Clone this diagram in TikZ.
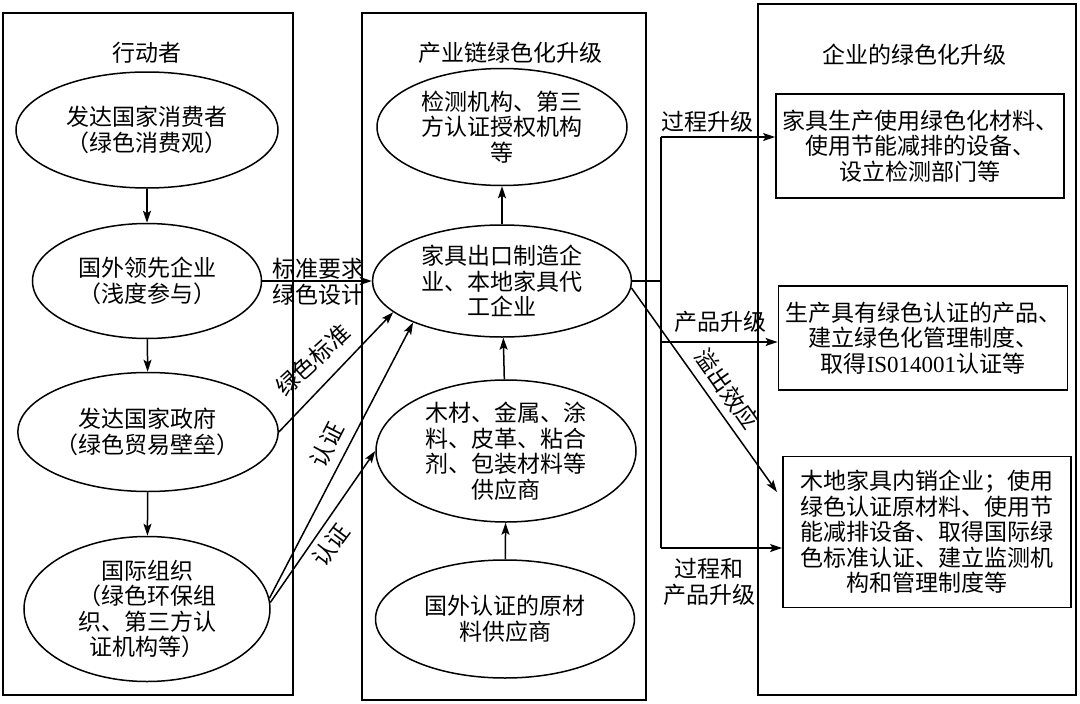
\documentclass[tikz,border=0pt]{standalone}
\usepackage{fontspec}
\setmainfont{Noto Sans CJK SC}
\newfontfamily\latinserif{Liberation Serif}
\usetikzlibrary{arrows.meta,shapes.geometric}
\begin{document}
\begin{tikzpicture}[x=1pt,y=-1pt,
  every node/.style={font=\fontsize{23}{25.5}\selectfont},
  panel/.style={draw,line width=1.8pt},
  oval/.style={draw,ellipse,line width=1.5pt,inner sep=0pt,align=center},
  rbox/.style={draw,rectangle,line width=1.8pt,inner sep=0pt,align=center},
  arr/.style={line width=1.5pt,-{Stealth[length=12pt,width=8pt,inset=2.5pt]}},
  ln/.style={line width=1.5pt},
  lbl/.style={inner sep=0pt,align=center}]
\useasboundingbox (0,0) rectangle (1080,704);
\fill[white] (0,0) rectangle (1080,704);

% panels
\draw[panel] (3,13) rectangle (293,695);
\draw[panel] (362,13) rectangle (646,700);
\draw[panel] (758,4) rectangle (1076,695);

% titles
\node[lbl] (t1) at (147,53) {行动者};
\node[lbl] (t2) at (510,53) {产业链绿色化升级};
\node[lbl] (t3) at (914,55) {企业的绿色化升级};

% left column
\node[oval,minimum width=262pt,minimum height=116pt] (e1) at (147,130) {发达国家消费者\\（绿色消费观）};
\node[oval,minimum width=229pt,minimum height=115pt] (e2) at (147,281) {国外领先企业\\（浅度参与）};
\node[oval,minimum width=227pt,minimum height=119pt] (e3) at (148,432) {发达国家政府\\（绿色贸易壁垒）};
\node[oval,minimum width=246pt,minimum height=145pt] (e4) at (147,609) {国际组织\\（绿色环保组\\织、第三方认\\证机构等）};

% middle column
\node[oval,minimum width=250pt,minimum height=117pt] (m1) at (502,127) {检测机构、第三\\方认证授权机构\\等};
\node[oval,minimum width=259pt,minimum height=112pt] (m2) at (502,281) {家具出口制造企\\业、本地家具代\\工企业};
\node[oval,minimum width=260pt,minimum height=142pt] (m3) at (506,451) {木材、金属、涂\\料、皮革、粘合\\剂、包装材料等\\供应商};
\node[oval,minimum width=259pt,minimum height=118pt] (m4) at (505,619) {国外认证的原材\\料供应商};

% right column
\node[rbox,minimum width=288pt,minimum height=104pt] (r1) at (920,146) {家具生产使用绿色化材料、\\使用节能减排的设备、\\设立检测部门等};
\node[rbox,minimum width=289pt,minimum height=104pt] (r2) at (923,338) {生产具有绿色认证的产品、\\建立绿色化管理制度、\\取得{\latinserif IS014001}认证等};
\node[rbox,minimum width=288pt,minimum height=151pt] (r3) at (927,532) {木地家具内销企业；使用\\绿色认证原材料、使用节\\能减排设备、取得国际绿\\色标准认证、建立监测机\\构和管理制度等};

% left vertical arrows
\draw[arr] (e1) -- (e2);
\draw[arr] (e2) -- (e3);
\draw[arr] (e3) -- (e4);

% middle vertical arrows
\draw[arr] (m2) -- (m1);
\draw[arr] (m3) -- (m2);
\draw[arr] (m4) -- (m3);

% left to middle
\draw[arr] (e2.east) -- (m2.west);
\draw[arr] (e3.east) -- (m2.196);
\draw[arr] (e4.5) -- (m2.205);
\draw[arr] (e4.3) -- (m3.west);

\node[lbl] (l1) at (318,282) {标准要求\\绿色设计};
\node[lbl,rotate=42.5] (l2) at (313,360) {绿色标准};
\node[lbl,rotate=63] (l3) at (327,445) {认证};
\node[lbl,rotate=53] (l4) at (331,545) {认证};

% right connectors
\coordinate (j) at (661,281);
\coordinate (jt) at (661,137);
\coordinate (jm) at (661,342);
\coordinate (jb) at (661,548);
\coordinate (spill) at (777,492);
\draw[ln] (m2.east) -- (j);
\draw[ln] (jt) -- (jb);
\draw[arr] (jt) -- (jt -| r1.west);
\draw[arr] (jm) -- (jm -| r2.west);
\draw[arr] (jb) -- (jb -| r3.west);
\draw[arr] (m2.-3) -- (spill);

\node[lbl] (l5) at (707,122) {过程升级};
\node[lbl] (l6) at (720,322) {产品升级};
\node[lbl] (l7) at (709,582) {过程和\\产品升级};
\node[lbl,rotate=-55] (l8) at (727,389) {溢出效应};
\end{tikzpicture}
\end{document}
